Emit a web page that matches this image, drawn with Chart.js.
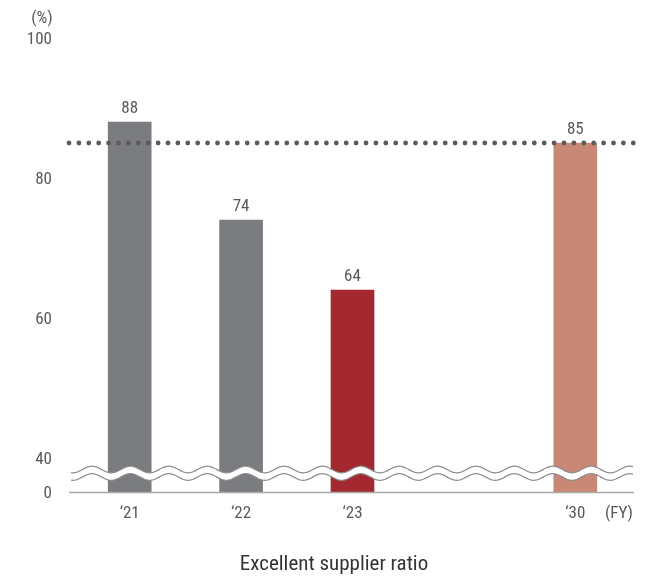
<!DOCTYPE html>
<html>
<head>
<meta charset="utf-8">
<script src="https://cdn.jsdelivr.net/npm/chart.js@4/dist/chart.umd.min.js"></script>
<style>
  html, body { margin: 0; padding: 0; background: #ffffff; }
  #wrap { width: 662px; height: 578px; }
</style>
</head>
<body>
<div id="wrap"><canvas id="chart" width="662" height="578"></canvas></div>
<script>
// Fiscal years (the blank slot keeps the gap before the 2030 goal)
const categories = ['\u201821', '\u201822', '\u201823', '', '\u201830'];
// Excellent supplier ratio (%)
const ratios = [88, 74, 64, null, 85];
// 2030 target level (%)
const target = 85;
// Axis ticks above the break; the bottom of the broken axis reads 0
const yTicks = [40, 60, 80, 100];
const yBreakBottom = 35.15;
const yTop = 100;
const chartTitle = 'Excellent supplier ratio';

const barColors = ['#7b7c80', '#7b7c80', '#a4282f', 'rgba(0,0,0,0)', '#c98875'];
const FONT = '"Liberation Sans Narrow", "Roboto Condensed", Roboto, sans-serif';

const overlay = {
  id: 'overlay',
  afterDatasetsDraw(chart) {
    const { ctx, chartArea, scales } = chart;
    const x0 = 71, x1 = 633;
    const yScale = scales.y;

    // axis break: white band between two wavy lines
    const upper = 469.5, lower = 477, amp = 3.3, period = 38.4, phase = 92;
    const wave = (x, c) => c - amp * Math.cos(2 * Math.PI * (x - phase) / period);
    ctx.save();
    ctx.beginPath();
    for (let x = x0; x <= x1; x += 0.5) {
      const y = wave(x, upper);
      x === x0 ? ctx.moveTo(x, y) : ctx.lineTo(x, y);
    }
    for (let x = x1; x >= x0; x -= 0.5) ctx.lineTo(x, wave(x, lower));
    ctx.closePath();
    ctx.fillStyle = '#ffffff';
    ctx.fill();
    ctx.strokeStyle = '#8a8a8a';
    ctx.lineWidth = 1.2;
    [upper, lower].forEach(c => {
      ctx.beginPath();
      for (let x = x0; x <= x1; x += 0.5) {
        const y = wave(x, c);
        x === x0 ? ctx.moveTo(x, y) : ctx.lineTo(x, y);
      }
      ctx.stroke();
    });

    // baseline
    const yb = chartArea.bottom + 0.5;
    ctx.beginPath();
    ctx.moveTo(69, yb);
    ctx.lineTo(634, yb);
    ctx.strokeStyle = '#a8a8a8';
    ctx.lineWidth = 1.6;
    ctx.stroke();

    // dotted target line
    const yt = yScale.getPixelForValue(target);
    ctx.beginPath();
    ctx.setLineDash([0, 9.9]);
    ctx.lineCap = 'round';
    ctx.lineWidth = 4.8;
    ctx.strokeStyle = '#5a5b5d';
    ctx.moveTo(69, yt);
    ctx.lineTo(634, yt);
    ctx.stroke();
    ctx.setLineDash([]);

    // value labels
    ctx.font = '17px ' + FONT;
    ctx.fillStyle = '#58595b';
    ctx.textAlign = 'center';
    ctx.textBaseline = 'middle';
    const meta = chart.getDatasetMeta(0);
    meta.data.forEach((bar, i) => {
      if (ratios[i] == null) return;
      ctx.fillText(String(ratios[i]), bar.x, bar.y - 13);
    });

    // unit labels
    ctx.fillText('(%)', 42, 19);
    ctx.fillText('(FY)', 619, 514);

    // chart caption
    ctx.font = '21px ' + FONT;
    ctx.fillStyle = '#333333';
    ctx.fillText(chartTitle, 334, 565);
    ctx.restore();
  }
};

new Chart(document.getElementById('chart'), {
  type: 'bar',
  data: {
    labels: categories,
    datasets: [{
      data: ratios,
      backgroundColor: barColors,
      barThickness: 43,
      borderWidth: 0
    }]
  },
  options: {
    responsive: false,
    animation: false,
    devicePixelRatio: 1,
    layout: { padding: { top: 38, right: 31, left: 0, bottom: 54.8 } },
    plugins: {
      legend: { display: false },
      tooltip: { enabled: false },
      title: { display: false }
    },
    scales: {
      x: {
        grid: { display: false, drawTicks: false },
        border: { display: false },
        ticks: {
          color: '#58595b',
          font: { family: FONT, size: 17 },
          padding: 12,
          maxRotation: 0
        },
        afterFit(scale) { scale.height = 31.2; }
      },
      y: {
        min: yBreakBottom,
        max: yTop,
        grid: { display: false, drawTicks: false },
        border: { display: false },
        afterBuildTicks(scale) {
          scale.ticks = [yBreakBottom].concat(yTicks).map(v => ({ value: v }));
        },
        ticks: {
          color: '#58595b',
          font: { family: FONT, size: 17 },
          padding: 22,
          labelOffset: 2,
          callback: v => (v === yBreakBottom ? '0' : String(v))
        },
        afterFit(scale) { scale.width = 74; }
      }
    }
  },
  plugins: [overlay]
});
</script>
</body>
</html>
